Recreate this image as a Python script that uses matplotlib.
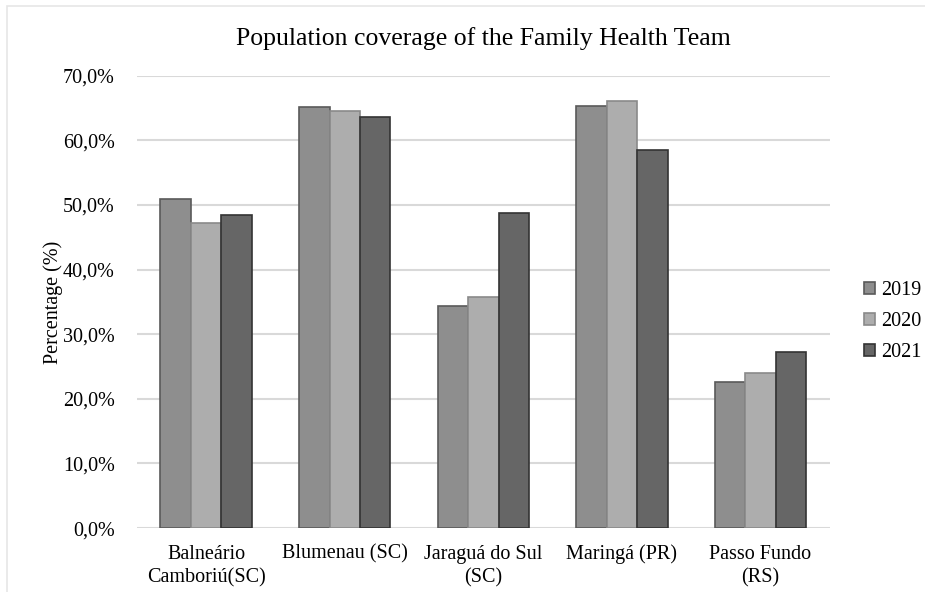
import matplotlib
matplotlib.use("Agg")
import matplotlib.pyplot as plt
import numpy as np
from matplotlib.patches import Rectangle

# data
cities = ["Balneário\nCamboriú(SC)", "Blumenau (SC)", "Jaraguá do Sul\n(SC)",
          "Maringá (PR)", "Passo Fundo\n(RS)"]
years = ["2019", "2020", "2021"]
cov_2019 = [50.9, 65.2, 34.4, 65.3, 22.6]
cov_2020 = [47.2, 64.5, 35.8, 66.1, 24.0]
cov_2021 = [48.5, 63.6, 48.8, 58.5, 27.2]
yticks = [0, 10, 20, 30, 40, 50, 60, 70]

plt.rcParams['font.family'] = ['Liberation Serif', 'DejaVu Serif']

fills = ["#8e8e8e", "#adadad", "#666666"]
edges = ["#5a5a5a", "#8a8a8a", "#333333"]

fig = plt.figure(figsize=(9.25, 5.92), dpi=100)
ax = fig.add_axes([0.148, 0.108, 0.749, 0.764])

x = np.arange(len(cities))
w = 0.22
for i, vals in enumerate([cov_2019, cov_2020, cov_2021]):
    ax.bar(x + (i - 1) * w, vals, w, color=fills[i], edgecolor=edges[i],
           linewidth=1.2, label=years[i], zorder=3)

ax.set_xlim(-0.5, len(cities) - 0.5)
ax.set_ylim(0, 70)
ax.set_yticks(yticks)
ax.set_yticklabels([f"{v:.1f}%".replace(".", ",") for v in yticks], fontsize=14.5)
ax.set_xticks(x)
ax.set_xticklabels(cities, fontsize=14.5, linespacing=1.3)
ax.tick_params(length=0)
ax.tick_params(axis='x', pad=12)
ax.tick_params(axis='y', pad=16)
for s in ax.spines.values():
    s.set_visible(False)
ax.yaxis.grid(True, color="#d9d9d9", linewidth=1.5, zorder=0)
ax.set_ylabel("Percentage (%)", fontsize=14.5, labelpad=0)
ax.set_title("Population coverage of the Family Health Team", fontsize=18.5, pad=22)

ax.legend(loc="center left", bbox_to_anchor=(1.05, 0.456), frameon=False,
          fontsize=14.5, handlelength=0.55, handleheight=0.55, handletextpad=0.3,
          labelspacing=0.6, borderaxespad=0, borderpad=0)

# faint frame around the figure
fig.patches.append(Rectangle((0.008, -0.05), 1.2, 1.04, transform=fig.transFigure,
                             fill=False, edgecolor="#e6e6e6", linewidth=1.2))

fig.savefig("out.png", dpi=100)
